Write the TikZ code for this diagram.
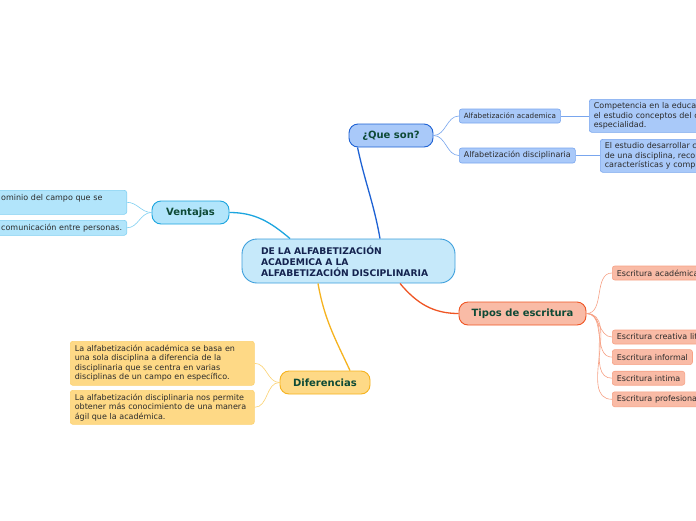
\documentclass[tikz,border=0pt]{standalone}
\usepackage{fontspec}
\setmainfont{DejaVu Sans}
\usetikzlibrary{positioning,calc}
\definecolor{cenfill}{HTML}{C6E9FA}
\definecolor{cenline}{HTML}{3D9FDC}
\definecolor{centext}{HTML}{14234F}
\definecolor{titletext}{HTML}{0E4A36}
\definecolor{leaftext}{HTML}{2B2B2B}
\definecolor{qsfill}{HTML}{A9C9F9}
\definecolor{qsline}{HTML}{1E62D4}
\definecolor{qslight}{HTML}{79A6EE}
\definecolor{vefill}{HTML}{B2E5FB}
\definecolor{veline}{HTML}{1CA5DF}
\definecolor{velight}{HTML}{80D0F2}
\definecolor{difill}{HTML}{FED986}
\definecolor{diline}{HTML}{F6B31F}
\definecolor{dilight}{HTML}{FCD271}
\definecolor{tifill}{HTML}{F9BBA6}
\definecolor{tiline}{HTML}{EF5524}
\definecolor{tilight}{HTML}{F7A286}

\begin{document}
\begin{tikzpicture}[x=1pt, y=-1pt,
  central/.style={draw=cenline, fill=cenfill, line width=0.9pt, rounded corners=15pt,
    minimum width=213pt, minimum height=44pt, text width=175pt, inner xsep=19pt,
    align=left, text=centext, font=\fontsize{9.2}{11}\selectfont\bfseries},
  topic/.style={line width=0.9pt, rounded corners=9pt, minimum height=23pt,
    inner sep=0pt, text=titletext, font=\fontsize{10}{12}\selectfont\bfseries},
  leaf/.style={line width=0.6pt, rounded corners=2.5pt, inner xsep=4.5pt, inner ysep=0pt,
    align=left, text=leaftext, font=\fontsize{8}{9.4}\selectfont},
  trunk/.style={line width=1.3pt},
  twig/.style={line width=0.6pt}
]
\useasboundingbox (0,0) rectangle (696,520);
\fill[white] (0,0) rectangle (696,520);
\clip (0,0) rectangle (696,520);

% centre
\node[central] (cen) at (348.5,261) {DE LA ALFABETIZACIÓN\\ ACADEMICA A LA\\ ALFABETIZACIÓN DISCIPLINARIA};

% main topics
\node[topic, draw=qsline, fill=qsfill, minimum width=84pt] (qs) at (391,135.5) {¿Que son?};
\node[topic, draw=veline, fill=vefill, minimum width=77pt] (ve) at (190.5,212.5) {Ventajas};
\node[topic, draw=diline, fill=difill, minimum width=90pt] (di) at (325,382.5) {Diferencias};
\node[topic, draw=tiline, fill=tifill, minimum width=127pt] (ti) at (522.5,313.5) {Tipos de escritura};

\draw[trunk, qsline] ([xshift=9pt]qs.south west) to[out=-78, in=100] ([xshift=31.5pt]cen.north);
\draw[trunk, veline] (ve.east) to[out=0, in=140] (cen.159);
\draw[trunk, diline] ([xshift=-30.5pt]cen.south) to[out=-80, in=115] ([xshift=25pt]di.north);
\draw[trunk, tiline] ([xshift=51.5pt]cen.south) to[out=-50, in=180] (ti.west);

% que son
\node[leaf, draw=qslight, fill=qsfill, anchor=west, minimum height=14pt,
  font=\fontsize{7.2}{8.5}\selectfont] (qs1) at (459,116) {Alfabetización academica};
\node[leaf, draw=qslight, fill=qsfill, anchor=west, minimum height=15pt] (qs2) at (459,155.5) {Alfabetización disciplinaria};
\node[leaf, draw=qslight, fill=qsfill, anchor=north west, text width=150pt, minimum height=33pt] (qs1a) at (589,99)
  {Competencia en la educac\\ el estudio conceptos del c\\ especialidad.};
\node[leaf, draw=qslight, fill=qsfill, anchor=north west, text width=150pt, minimum height=33pt] (qs2a) at (600,139)
  {El estudio desarrollar c\\ de una disciplina, recor\\ características y compe};
\draw[twig, qslight] (qs.east) to[out=0, in=180] (qs1.west);
\draw[twig, qslight] (qs.east) to[out=0, in=180] (qs2.west);
\draw[twig, qslight] (qs1.east) -- (qs1.east -| qs1a.west);
\draw[twig, qslight] (qs2.east) -- (qs2.east -| qs2a.west);

% ventajas
\node[leaf, draw=velight, fill=vefill, anchor=north east, text width=121pt, minimum height=24pt] (ve1) at (127,190)
  {ominio del campo que se\\ \mbox{}};
\node[leaf, draw=velight, fill=vefill, anchor=north east, text width=121pt, minimum height=15pt] (ve2) at (127,220)
  {comunicación entre personas.};
\draw[twig, velight] (ve.west) to[out=180, in=0] (ve1.east);
\draw[twig, velight] (ve.west) to[out=180, in=0] (ve2.east);

% diferencias
\node[leaf, draw=dilight, fill=difill, anchor=north west, text width=175pt, minimum height=44pt] (di1) at (70,341)
  {La alfabetización académica se basa en\\ una sola disciplina a diferencia de la\\ disciplinaria que se centra en varias\\ disciplinas de un campo en específico.};
\node[leaf, draw=dilight, fill=difill, anchor=north west, text width=175pt, minimum height=34pt] (di2) at (70,390)
  {La alfabetización disciplinaria nos permite\\ obtener más conocimiento de una manera\\ ágil que la académica.};
\draw[twig, dilight] (di.west) to[out=180, in=0] (di1.east);
\draw[twig, dilight] (di.west) to[out=180, in=0] (di2.east);

% tipos de escritura
\node[leaf, draw=tilight, fill=tifill, anchor=west, minimum height=14pt, text width=100pt] (ti1) at (612,273) {Escritura académica};
\node[leaf, draw=tilight, fill=tifill, anchor=west, minimum height=14pt, text width=100pt] (ti2) at (612,337) {Escritura creativa lit};
\node[leaf, draw=tilight, fill=tifill, below=5pt of ti2.south west, anchor=north west, minimum height=15pt] (ti3) {Escritura informal};
\node[leaf, draw=tilight, fill=tifill, below=6pt of ti3.south west, anchor=north west, minimum height=14pt] (ti4) {Escritura intima};
\node[leaf, draw=tilight, fill=tifill, below=6pt of ti4.south west, anchor=north west, minimum height=15pt, text width=100pt] (ti5) {Escritura profesiona};
\foreach \t in {ti1,ti2,ti3,ti4,ti5}
  \draw[twig, tilight] (ti.east) to[out=0, in=180] (\t.west);
\end{tikzpicture}
\end{document}
